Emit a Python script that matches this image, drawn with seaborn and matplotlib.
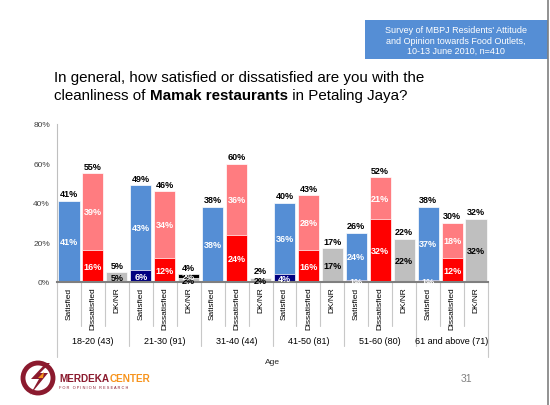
import numpy as np
import pandas as pd
import matplotlib
matplotlib.use("Agg")
import matplotlib.pyplot as plt
import matplotlib.transforms as mtransforms
from matplotlib.patches import Rectangle, Circle, Polygon
import seaborn as sns

# data
groups = ["18-20 (43)", "21-30 (91)", "31-40 (44)", "41-50 (81)", "51-60 (80)", "61 and above (71)"]
answers = ["Satisfied", "Dissatisfied", "DK/NR"]
very_sat = [0, 6, 0, 4, 1, 1]
somewhat_sat = [41, 43, 38, 36, 24, 37]
very_dis = [16, 12, 24, 16, 32, 12]
somewhat_dis = [39, 34, 36, 28, 21, 18]
dknr_grey = [5, 2, 2, 17, 22, 32]
dknr_black = [0, 2, 0, 0, 0, 0]
sat_total = [41, 49, 38, 40, 26, 38]
dis_total = [55, 46, 60, 43, 52, 30]
dknr_total = [5, 4, 2, 17, 22, 32]

C_BLUE = "#558ED5"
C_NAVY = "#000080"
C_PINK = "#FF7C80"
C_RED = "#FF0000"
C_GREY = "#BFBFBF"
C_BLACK = "#000000"

sns.set_theme(style="white")
plt.rcParams["font.family"] = ["Liberation Sans", "DejaVu Sans"]
NARROW = ["Liberation Sans Narrow", "Liberation Sans", "DejaVu Sans"]

slots = [f"{g}|{a}" for g in groups for a in answers]

top_h, top_c, low_h, low_c, totals, segs = [], [], [], [], [], []
for i in range(len(groups)):
    top_h += [very_sat[i] + somewhat_sat[i], very_dis[i] + somewhat_dis[i], dknr_grey[i] + dknr_black[i]]
    top_c += [C_BLUE, C_PINK, C_BLACK if dknr_black[i] else C_GREY]
    low_h += [very_sat[i], very_dis[i], dknr_grey[i]]
    low_c += [C_NAVY, C_RED, C_GREY]
    totals += [sat_total[i], dis_total[i], dknr_total[i]]
    segs += [
        [(very_sat[i], 0, "white"), (somewhat_sat[i], very_sat[i], "white")],
        [(very_dis[i], 0, "white"), (somewhat_dis[i], very_dis[i], "white")],
        [(dknr_grey[i], 0, "black"), (dknr_black[i], dknr_grey[i], "white")],
    ]

df = pd.DataFrame({
    "slot": slots * 2,
    "value": top_h + low_h,
    "layer": ["top"] * len(slots) + ["low"] * len(slots),
})

fig = plt.figure(figsize=(5.5, 4.06), dpi=100)
fig.patch.set_facecolor("white")

# background overlay in pixel coords for slide decorations
bg = fig.add_axes([0, 0, 1, 1], zorder=-1)
bg.set_xlim(0, 550)
bg.set_ylim(406, 0)
bg.axis("off")

ax = fig.add_axes([57 / 550, 1 - 283 / 406, (488 - 57) / 550, 158 / 406])
ax.patch.set_alpha(0)

for layer, cols in [("top", top_c), ("low", low_c)]:
    d = df[df["layer"] == layer]
    sns.barplot(data=d, x="slot", y="value", hue="slot", order=slots, hue_order=slots,
                palette=dict(zip(slots, cols)), width=0.88, saturation=1, legend=False, ax=ax,
                edgecolor="white", linewidth=0.5)

ax.set_xlim(-0.5, len(slots) - 0.5)
ax.set_ylim(0, 80)
ax.set_yticks(range(0, 81, 20))
ax.set_yticklabels([f"{v}%" for v in range(0, 81, 20)])
ax.tick_params(axis="y", labelsize=6, labelcolor="#404040", length=3, width=0.6,
               color="#BFBFBF", direction="out", pad=2)
ax.tick_params(axis="x", length=0, labelbottom=False)
for lab in ax.get_yticklabels():
    lab.set_family(NARROW)
ax.set_xlabel("")
ax.set_ylabel("")
for s in ["top", "right"]:
    ax.spines[s].set_visible(False)
ax.spines["left"].set_color("#BFBFBF")
ax.spines["left"].set_linewidth(0.8)
ax.spines["bottom"].set_color("#7F7F7F")
ax.spines["bottom"].set_linewidth(1.5)

# value labels
for k in range(len(slots)):
    ax.text(k, top_h[k] + 1.3, f"{totals[k]}%", ha="center", va="bottom",
            fontsize=6.5, fontweight="bold", color="black", family=NARROW)
    for val, base, col in segs[k]:
        if val > 0:
            ax.text(k, base + val / 2, f"{val}%", ha="center", va="center",
                    fontsize=6.5, fontweight="bold", color=col, family=NARROW)

# category axis below
trans = mtransforms.blended_transform_factory(ax.transData, ax.transAxes)
for k in range(len(slots)):
    ax.text(k, -0.03, answers[k % 3], transform=trans, rotation=90, ha="center", va="top",
            fontsize=6, color="black", family=NARROW)
for k in range(len(slots) - 1):
    low = -0.405 if (k + 1) % 3 == 0 else -0.278
    ax.plot([k + 0.5, k + 0.5], [0, low], transform=trans, color="#C8C8C8", lw=0.8, clip_on=False)
for xb in [-0.5, len(slots) - 0.5]:
    ax.plot([xb, xb], [0, -0.475], transform=trans, color="#C8C8C8", lw=0.8, clip_on=False)
for i, g in enumerate(groups):
    ax.text(3 * i + 1, -0.373, g, transform=trans, ha="center", va="center",
            fontsize=6.5, color="black", family=NARROW)
ax.text(8.5, -0.48, "Age", transform=trans, ha="center", va="top", fontsize=6, family=NARROW)

# survey box
bg.add_patch(Rectangle((365, 21), 183, 39, facecolor="#558ED5", edgecolor="none"))
bg.text(456, 41, "Survey of MBPJ Residents' Attitude\nand Opinion towards Food Outlets,\n10-13 June 2010, n=410",
        ha="center", va="center", color="white", fontsize=6.5, linespacing=1.25)
bg.plot([548, 548], [0, 406], color="#7F7F7F", lw=1.2)

# question
QS = 10.9
q1 = bg.text(54, 78, "In general, how satisfied or dissatisfied are you with the",
             ha="left", va="center", fontsize=QS, color="black")
q2 = bg.text(54, 96, "cleanliness of ", ha="left", va="center", fontsize=QS, color="black")
q3 = bg.annotate("Mamak restaurants", xy=(1, 0), xycoords=q2, ha="left", va="bottom",
                 fontsize=QS, fontweight="bold", color="black")
q4 = bg.annotate(" in Petaling Jaya?", xy=(1, 0), xycoords=q3, ha="left", va="bottom",
                 fontsize=QS, color="black")

# logo
bg.add_patch(Circle((38, 379), 15, facecolor="none", edgecolor="#8B1A2E", lw=3.5))
bg.add_patch(Polygon([(46, 364), (31, 380), (39, 380), (30, 396), (48, 374), (40, 374), (50, 364)],
                     closed=True, facecolor="#8B1A2E", edgecolor="none"))
bg.add_patch(Polygon([(44, 373), (38, 379), (43, 379)], closed=True, facecolor="#F7941D", edgecolor="none"))
m = bg.text(59, 379, "MERDEKA", ha="left", va="center", fontsize=7.2, fontweight="bold",
            color="#8B1A2E", family=NARROW)
bg.annotate("CENTER", xy=(1, 0), xycoords=m, ha="left", va="bottom", fontsize=7.2,
            fontweight="bold", color="#F7941D", family=NARROW)
bg.text(59, 388, "F O R   O P I N I O N   R E S E A R C H", ha="left", va="center",
        fontsize=2.8, color="#8B1A2E")

bg.text(466, 379, "31", ha="center", va="center", fontsize=7.5, color="#808080")

fig.savefig("out.png", dpi=100)
